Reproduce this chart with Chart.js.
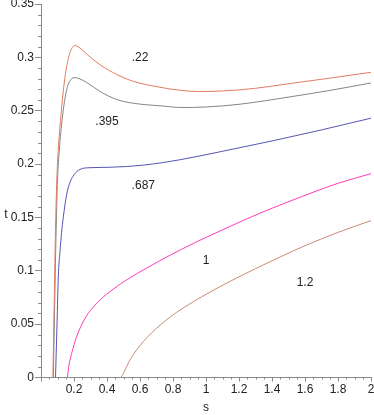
<!DOCTYPE html>
<html lang="en">
<head>
    <meta charset="UTF-8">
    <title>Level curves</title>
    <script src="https://cdn.jsdelivr.net/npm/chart.js"></script>
    <style>
        body {
            margin: 0;
            background: #fff;
        }

        #wrap {
            width: 374px;
            height: 415px;
        }
    </style>
</head>
<body>
<div id="wrap"><canvas id="chart"></canvas></div>

<script>
    // curve .22
    const s22 = [0.072, 0.08, 0.088, 0.097, 0.106, 0.115, 0.125, 0.145, 0.166, 0.185, 0.206, 0.23, 0.256, 0.3, 0.358, 0.459, 0.56, 0.721, 0.85, 0.96, 1.1, 1.3, 1.51, 1.75, 2];
    const t22 = [0, 0.07, 0.14, 0.19, 0.217, 0.235, 0.253, 0.281, 0.299, 0.308, 0.311, 0.3095, 0.306, 0.3, 0.293, 0.284, 0.2775, 0.272, 0.269, 0.268, 0.2685, 0.271, 0.2755, 0.2805, 0.286];
    // curve .395
    const s395 = [0.075, 0.083, 0.092, 0.1, 0.111, 0.129, 0.156, 0.18, 0.206, 0.235, 0.277, 0.358, 0.459, 0.56, 0.721, 0.86, 1.0, 1.2, 1.51, 1.75, 2];
    const t395 = [0, 0.07, 0.14, 0.185, 0.213, 0.243, 0.27, 0.279, 0.281, 0.2798, 0.2765, 0.268, 0.2605, 0.257, 0.2546, 0.253, 0.2535, 0.256, 0.263, 0.269, 0.276];
    // curve .687
    const s687 = [0.088, 0.097, 0.105, 0.115, 0.125, 0.135, 0.156, 0.176, 0.2, 0.236, 0.297, 0.418, 0.62, 0.84, 1.1, 1.41, 1.7, 2];
    const t687 = [0, 0.05, 0.095, 0.118, 0.136, 0.15, 0.172, 0.183, 0.19, 0.195, 0.1966, 0.197, 0.199, 0.204, 0.212, 0.222, 0.232, 0.243];
    // curve 1
    const s1 = [0.16, 0.17, 0.186, 0.216, 0.267, 0.338, 0.418, 0.519, 0.62, 0.721, 0.85, 1.024, 1.18, 1.327, 1.48, 1.63, 1.8, 2];
    const t1 = [0, 0.012, 0.0227, 0.0383, 0.0555, 0.0696, 0.0805, 0.0915, 0.1008, 0.1095, 0.12, 0.133, 0.144, 0.154, 0.1635, 0.1725, 0.182, 0.191];
    // curve 1.2
    const s12 = [0.485, 0.5, 0.539, 0.62, 0.721, 0.822, 0.923, 1.024, 1.145, 1.3, 1.45, 1.6, 1.8, 2];
    const t12 = [0, 0.004, 0.0164, 0.0336, 0.049, 0.061, 0.071, 0.08, 0.09, 0.102, 0.113, 0.1235, 0.136, 0.147];

    // curve labels
    const labelText = ['.22', '.395', '.687', '1', '1.2'];
    const labelS = [0.6, 0.4, 0.62, 1.0, 1.6];
    const labelT = [0.3, 0.24, 0.18, 0.109, 0.0887];

    const axisColor = '#8a8a8a';
    const font = "'Liberation Sans', Arial, sans-serif";

    function pts(xs, ys) {
        return xs.map((x, i) => ({x: x, y: ys[i]}));
    }

    function isMultiple(v, step) {
        const r = v / step;
        return Math.abs(r - Math.round(r)) < 1e-6;
    }

    // short minor ticks between the labelled ones
    const minorTicks = {
        id: 'minorTicks',
        afterDraw(chart) {
            const ctx = chart.ctx;
            const xs = chart.scales.x, ys = chart.scales.y;
            ctx.save();
            ctx.strokeStyle = axisColor;
            ctx.lineWidth = 1;
            ctx.beginPath();
            for (let i = 1; i < 40; i++) {
                const v = i * 0.05;
                if (isMultiple(v, 0.2)) continue;
                const px = Math.round(xs.getPixelForValue(v)) + 0.5;
                ctx.moveTo(px, ys.bottom);
                ctx.lineTo(px, ys.bottom + 2);
            }
            for (let i = 1; i < 35; i++) {
                const v = i * 0.01;
                if (isMultiple(v, 0.05)) continue;
                const py = Math.round(ys.getPixelForValue(v)) + 0.5;
                ctx.moveTo(xs.left - 3, py);
                ctx.lineTo(xs.left, py);
            }
            ctx.stroke();
            ctx.restore();
        }
    };

    const curveLabels = {
        id: 'curveLabels',
        afterDatasetsDraw(chart) {
            const ctx = chart.ctx;
            const xs = chart.scales.x, ys = chart.scales.y;
            ctx.save();
            ctx.fillStyle = '#222';
            ctx.font = '12px ' + font;
            ctx.textAlign = 'center';
            ctx.textBaseline = 'middle';
            labelText.forEach((txt, i) => {
                ctx.fillText(txt, xs.getPixelForValue(labelS[i]), ys.getPixelForValue(labelT[i]));
            });
            // axis name t, upright
            ctx.fillText('t', 6, (chart.chartArea.top + chart.chartArea.bottom) / 2 + 24);
            ctx.restore();
        }
    };

    function line(data, color) {
        return {
            data: data,
            borderColor: color,
            borderWidth: 1,
            pointRadius: 0,
            fill: false,
            cubicInterpolationMode: 'monotone'
        };
    }

    new Chart(document.getElementById('chart'), {
        type: 'line',
        data: {
            datasets: [
                line(pts(s22, t22), '#e27c62'),
                line(pts(s395, t395), '#858585'),
                line(pts(s687, t687), '#5555b5'),
                line(pts(s1, t1), '#ff3cb8'),
                line(pts(s12, t12), '#c98a76')
            ]
        },
        options: {
            responsive: true,
            maintainAspectRatio: false,
            animation: false,
            layout: {padding: {top: 4, right: 3, left: 0, bottom: 0}},
            plugins: {
                legend: {display: false},
                tooltip: {enabled: false}
            },
            scales: {
                x: {
                    type: 'linear',
                    min: 0,
                    max: 2,
                    border: {display: true, color: axisColor},
                    grid: {drawOnChartArea: false, tickLength: 4, tickColor: axisColor},
                    ticks: {
                        stepSize: 0.2,
                        autoSkip: false,
                        maxRotation: 0,
                        padding: 1,
                        color: '#222',
                        font: {family: font, size: 12},
                        callback: v => v === 0 ? '' : String(Number(v.toFixed(1)))
                    },
                    title: {
                        display: true,
                        text: 's',
                        color: '#222',
                        font: {family: font, size: 12},
                        padding: {top: 0, bottom: 0}
                    },
                    afterFit(scale) {
                        scale.height = 37.5;
                        scale.paddingRight = 0;
                        scale.paddingLeft = 0;
                    }
                },
                y: {
                    type: 'linear',
                    min: 0,
                    max: 0.35,
                    border: {display: true, color: axisColor},
                    grid: {drawOnChartArea: false, tickLength: 6, tickColor: axisColor},
                    ticks: {
                        stepSize: 0.05,
                        autoSkip: false,
                        padding: 1,
                        color: '#222',
                        font: {family: font, size: 12},
                        callback: v => String(Number(v.toFixed(2)))
                    },
                    afterFit(scale) {
                        scale.width = 41;
                        scale.paddingTop = 0;
                        scale.paddingBottom = 0;
                    }
                }
            }
        },
        plugins: [minorTicks, curveLabels]
    });
</script>
</body>
</html>
